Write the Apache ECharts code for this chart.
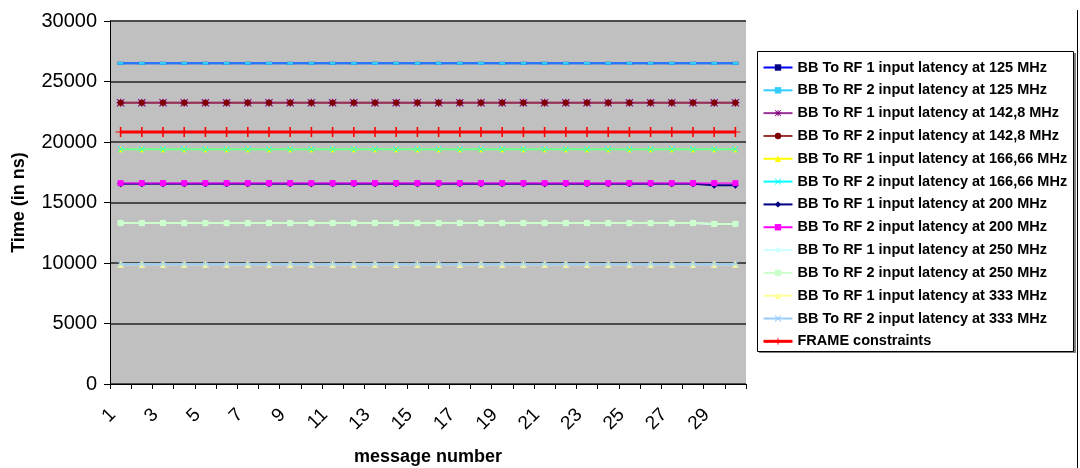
<!DOCTYPE html>
<html>
<head>
<meta charset="utf-8">
<script src="https://cdn.jsdelivr.net/npm/echarts@6/dist/echarts.min.js"></script>
<style>
  html, body { margin: 0; padding: 0; background: #fff; }
  #chart { width: 1080px; height: 468px; }
</style>
</head>
<body>
<div id="chart"></div>
<script>
// Message numbers on the category axis
const messages = [1, 2, 3, 4, 5, 6, 7, 8, 9, 10, 11, 12, 13, 14, 15, 16, 17, 18, 19, 20, 21, 22, 23, 24, 25, 26, 27, 28, 29, 30];

// Latency per message (ns)
const rf1At125 = [26500, 26500, 26500, 26500, 26500, 26500, 26500, 26500, 26500, 26500, 26500, 26500, 26500, 26500, 26500, 26500, 26500, 26500, 26500, 26500, 26500, 26500, 26500, 26500, 26500, 26500, 26500, 26500, 26500, 26500];
const rf2At125 = [26500, 26500, 26500, 26500, 26500, 26500, 26500, 26500, 26500, 26500, 26500, 26500, 26500, 26500, 26500, 26500, 26500, 26500, 26500, 26500, 26500, 26500, 26500, 26500, 26500, 26500, 26500, 26500, 26500, 26500];
const rf1At1428 = [23250, 23250, 23250, 23250, 23250, 23250, 23250, 23250, 23250, 23250, 23250, 23250, 23250, 23250, 23250, 23250, 23250, 23250, 23250, 23250, 23250, 23250, 23250, 23250, 23250, 23250, 23250, 23250, 23250, 23250];
const rf2At1428 = [23250, 23250, 23250, 23250, 23250, 23250, 23250, 23250, 23250, 23250, 23250, 23250, 23250, 23250, 23250, 23250, 23250, 23250, 23250, 23250, 23250, 23250, 23250, 23250, 23250, 23250, 23250, 23250, 23250, 23250];
const rf1At16666 = [19400, 19400, 19400, 19400, 19400, 19400, 19400, 19400, 19400, 19400, 19400, 19400, 19400, 19400, 19400, 19400, 19400, 19400, 19400, 19400, 19400, 19400, 19400, 19400, 19400, 19400, 19400, 19400, 19400, 19400];
const rf2At16666 = [19400, 19400, 19400, 19400, 19400, 19400, 19400, 19400, 19400, 19400, 19400, 19400, 19400, 19400, 19400, 19400, 19400, 19400, 19400, 19400, 19400, 19400, 19400, 19400, 19400, 19400, 19400, 19400, 19400, 19400];
const rf1At200 = [16550, 16550, 16550, 16550, 16550, 16550, 16550, 16550, 16550, 16550, 16550, 16550, 16550, 16550, 16550, 16550, 16550, 16550, 16550, 16550, 16550, 16550, 16550, 16550, 16550, 16550, 16550, 16550, 16420, 16420];
const rf2At200 = [16600, 16600, 16600, 16600, 16600, 16600, 16600, 16600, 16600, 16600, 16600, 16600, 16600, 16600, 16600, 16600, 16600, 16600, 16600, 16600, 16600, 16600, 16600, 16600, 16600, 16600, 16600, 16600, 16600, 16600];
const rf1At250 = [13300, 13300, 13300, 13300, 13300, 13300, 13300, 13300, 13300, 13300, 13300, 13300, 13300, 13300, 13300, 13300, 13300, 13300, 13300, 13300, 13300, 13300, 13300, 13300, 13300, 13300, 13300, 13300, 13230, 13230];
const rf2At250 = [13300, 13300, 13300, 13300, 13300, 13300, 13300, 13300, 13300, 13300, 13300, 13300, 13300, 13300, 13300, 13300, 13300, 13300, 13300, 13300, 13300, 13300, 13300, 13300, 13300, 13300, 13300, 13300, 13230, 13230];
const rf1At333 = [9900, 9900, 9900, 9900, 9900, 9900, 9900, 9900, 9900, 9900, 9900, 9900, 9900, 9900, 9900, 9900, 9900, 9900, 9900, 9900, 9900, 9900, 9900, 9900, 9900, 9900, 9900, 9900, 9900, 9900];
const rf2At333 = [9900, 9900, 9900, 9900, 9900, 9900, 9900, 9900, 9900, 9900, 9900, 9900, 9900, 9900, 9900, 9900, 9900, 9900, 9900, 9900, 9900, 9900, 9900, 9900, 9900, 9900, 9900, 9900, 9900, 9900];
const frameConstraint = [20830, 20830, 20830, 20830, 20830, 20830, 20830, 20830, 20830, 20830, 20830, 20830, 20830, 20830, 20830, 20830, 20830, 20830, 20830, 20830, 20830, 20830, 20830, 20830, 20830, 20830, 20830, 20830, 20830, 20830];

// Value axis ticks
const yTicks = [0, 5000, 10000, 15000, 20000, 25000, 30000];

const FONT = "'Liberation Sans', Arial, sans-serif";

// Marker shapes
const crossPath = 'path://M0,1L1,0L10,9L9,10Z M9,0L10,1L1,10L0,9Z';
const starPath = 'path://M0,1L1,0L10,9L9,10Z M9,0L10,1L1,10L0,9Z M4.3,0H5.7V10H4.3Z M0,4.3H10V5.7H0Z';
const plusPath = 'path://M4.2,0H5.8V10H4.2Z M0,4.5H10V5.5H0Z';

// name, data, line colour, marker, marker colour, marker size, line opacity, line width
const seriesDefs = [
  ['BB To RF 1 input latency at 125 MHz', rf1At125, '#0000FF', 'rect', '#000080', [6, 3], 1, 2],
  ['BB To RF 2 input latency at 125 MHz', rf2At125, '#33CCFF', 'rect', '#33CCFF', [6, 3], 0.6, 2],
  ['BB To RF 1 input latency at 142,8 MHz', rf1At1428, '#993399', starPath, '#800080', 8, 1, 2],
  ['BB To RF 2 input latency at 142,8 MHz', rf2At1428, '#993333', 'circle', '#800000', 6, 0.7, 2],
  ['BB To RF 1 input latency at 166,66 MHz', rf1At16666, '#FFFF00', 'triangle', '#FFFF00', 6, 1, 2],
  ['BB To RF 2 input latency at 166,66 MHz', rf2At16666, '#00FFFF', crossPath, '#00FFFF', 6, 0.6, 2],
  ['BB To RF 1 input latency at 200 MHz', rf1At200, '#000080', 'diamond', '#000080', 7, 1, 2],
  ['BB To RF 2 input latency at 200 MHz', rf2At200, '#FF00FF', 'rect', '#FF00FF', 6, 0.7, 2],
  ['BB To RF 1 input latency at 250 MHz', rf1At250, '#CCFFFF', 'diamond', '#CCFFFF', 7, 1, 2],
  ['BB To RF 2 input latency at 250 MHz', rf2At250, '#CCFFCC', 'rect', '#CCFFCC', 6, 1, 2],
  ['BB To RF 1 input latency at 333 MHz', rf1At333, '#FFFF99', 'triangle', '#FFFF99', 7, 1, 2],
  ['BB To RF 2 input latency at 333 MHz', rf2At333, '#99CCFF', crossPath, '#99CCFF', 6, 1, 2],
  ['FRAME constraints', frameConstraint, '#FF0000', plusPath, '#FF0000', 10, 1, 3]
];

const series = seriesDefs.map(([name, data, color, symbol, mColor, size, op, lw]) => ({
  name, type: 'line', data,
  symbol, symbolSize: size,
  showSymbol: true,
  animation: false,
  lineStyle: { color, width: lw, opacity: op },
  itemStyle: { color: mColor, borderWidth: 0 },
  emphasis: { disabled: true }
}));

const legendData = seriesDefs.map(([name, , color, , mColor, , , lw]) => ({
  name,
  lineStyle: { color, opacity: 1, width: lw },
  itemStyle: { color: mColor }
}));

const chart = echarts.init(document.getElementById('chart'), null, { renderer: 'canvas' });
chart.setOption({
  animation: false,
  backgroundColor: '#FFFFFF',
  textStyle: { fontFamily: FONT },
  grid: {
    left: 110, right: 334, top: 21, bottom: 84,
    containLabel: false,
    outerBoundsMode: 'none',
    show: true, backgroundColor: '#C0C0C0', borderWidth: 0
  },
  xAxis: {
    type: 'category',
    data: messages,
    boundaryGap: true,
    name: 'message number',
    nameLocation: 'middle',
    nameGap: 64,
    nameTextStyle: { fontFamily: FONT, fontSize: 18, fontWeight: 'bold', color: '#000' },
    axisLine: { lineStyle: { color: '#000', width: 1 } },
    axisTick: { show: true, interval: 0, alignWithLabel: false, length: 5, lineStyle: { color: '#000' } },
    axisLabel: { interval: 1, rotate: 45, margin: 20, padding: [0, 11, 0, 0],
      fontFamily: FONT, fontSize: 19, color: '#000' },
    splitLine: { show: false }
  },
  yAxis: {
    type: 'value',
    min: yTicks[0],
    max: yTicks[yTicks.length - 1],
    interval: yTicks[1] - yTicks[0],
    name: 'Time (in ns)',
    nameLocation: 'middle',
    nameGap: 82,
    nameTextStyle: { fontFamily: FONT, fontSize: 18, fontWeight: 'bold', color: '#000' },
    axisLine: { show: true, lineStyle: { color: '#000', width: 1 } },
    axisTick: { show: true, length: 6, lineStyle: { color: '#000' } },
    axisLabel: { margin: 13, fontFamily: FONT, fontSize: 20, color: '#000', formatter: (v) => String(v) },
    splitLine: { show: true, lineStyle: { color: '#4a4a4a', width: 2 } }
  },
  legend: {
    orient: 'vertical',
    left: 757,
    top: 51,
    padding: [9, 5, 4, 5],
    itemWidth: 29,
    itemHeight: 8,
    itemGap: 7.82,
    selectedMode: false,
    textStyle: { fontFamily: FONT, fontSize: 14.5, fontWeight: 'bold', color: '#000', lineHeight: 14 },
    data: legendData
  },
  graphic: [
    { type: 'rect', z: -1, silent: true,
      shape: { x: 759, y: 53, width: 317, height: 300 },
      style: { fill: '#808080' } },
    { type: 'rect', z: -1, silent: true,
      shape: { x: 757.5, y: 51.5, width: 316, height: 300 },
      style: { fill: '#FFFFFF', stroke: '#000', lineWidth: 1 } },
    { type: 'line', silent: true,
      shape: { x1: 1077.5, y1: 10, x2: 1077.5, y2: 468 },
      style: { stroke: '#000', lineWidth: 1 } }
  ],
  series
});
</script>
</body>
</html>
